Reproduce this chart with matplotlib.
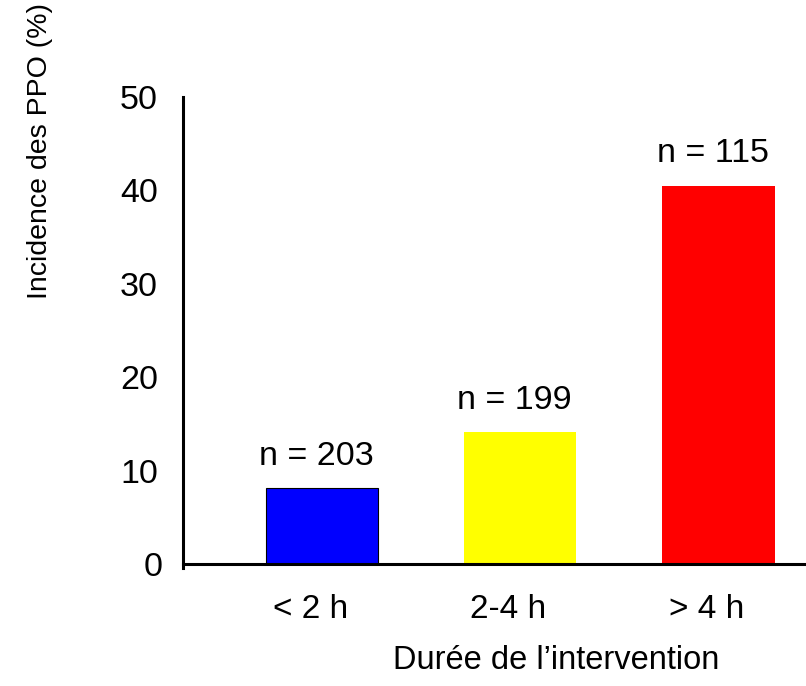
import matplotlib
matplotlib.use('Agg')
import matplotlib.pyplot as plt

plt.rcParams['font.family'] = ['Liberation Sans', 'DejaVu Sans']

durations = ['< 2 h', '2-4 h', '> 4 h']
incidence = [8.1, 14.1, 40.5]
n_patients = [203, 199, 115]
bar_colors = ['#0000FF', '#FFFF00', '#FF0000']

fig = plt.figure(figsize=(8.06, 6.86), dpi=100)
ax = fig.add_axes([0.227, 0.171, 0.773, 0.688])

x = list(range(len(durations)))
bars = ax.bar(x, incidence, width=0.57, color=bar_colors)
# only the first bar has an outline
bars[0].set_edgecolor('black')
bars[0].set_linewidth(0.8)

for xi, val, n in zip(x, incidence, n_patients):
    ax.annotate(f'n = {n}', (xi, val), xytext=(-4, 23), textcoords='offset points',
                ha='center', va='center', fontsize=24.5)

ax.set_xlim(-0.702, 2.444)
ax.set_ylim(-0.5, 50)
ax.set_yticks([0, 10, 20, 30, 40, 50])
# category labels sit a bit left of the bar centres
ax.set_xticks([xi - 0.06 for xi in x])
ax.set_xticklabels(durations)
ax.tick_params(axis='both', length=0)
ax.tick_params(axis='x', pad=21.5, labelsize=24)
ax.tick_params(axis='y', pad=18, labelsize=24.5)
ax.yaxis.get_major_ticks()[0].set_pad(14.4)

for side in ['top', 'right']:
    ax.spines[side].set_visible(False)
ax.spines['left'].set_linewidth(2.2)
ax.spines['left'].set_bounds(-0.45, 50)
ax.spines['bottom'].set_linewidth(2.2)
ax.spines['bottom'].set_position(('data', 0))

ax.set_xlabel('Durée de l’intervention', fontsize=23.5)
ax.xaxis.label.set_va('center')
ax.xaxis.set_label_coords(0.599, -0.195)
ax.set_ylabel('Incidence des PPO (%)', fontsize=20.5)
ax.yaxis.label.set_va('center')
ax.yaxis.set_label_coords(-0.2295, 0.884)

fig.savefig('out.png', dpi=100)
